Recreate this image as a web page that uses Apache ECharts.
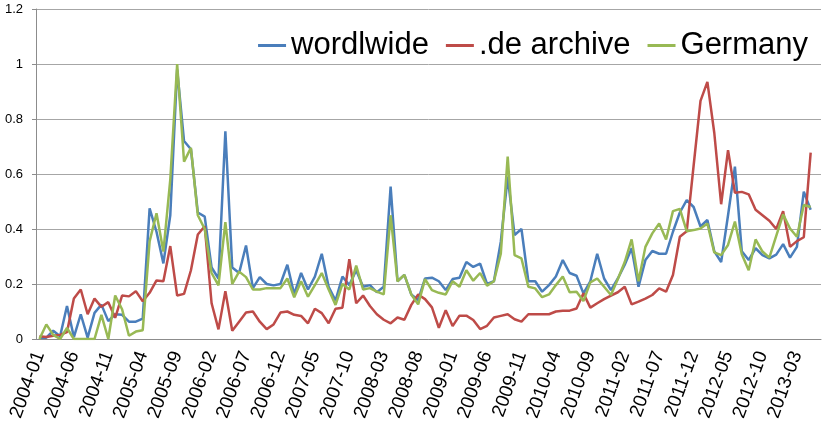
<!DOCTYPE html>
<html>
<head>
<meta charset="utf-8">
<script src="https://cdn.jsdelivr.net/npm/echarts@6/dist/echarts.min.js"></script>
<style>
  html, body { margin: 0; padding: 0; background: #fff; }
  #main { width: 830px; height: 434px; }
</style>
</head>
<body>
<div id="main"></div>
<script>
// months 2004-01 .. 2013-06 (last one has no data)
var months = [];
for (var y = 2004; y <= 2013; y++) {
  for (var m = 1; m <= 12; m++) {
    if (y === 2013 && m > 6) break;
    months.push(y + '-' + (m < 10 ? '0' + m : m));
  }
}

var worldwide = [
  0.005, 0.005, 0.03, 0.01, 0.12, 0.007, 0.09, 0.005, 0.095, 0.125,
  0.065, 0.09, 0.088, 0.063, 0.063, 0.074, 0.475, 0.39, 0.275, 0.45,
  0.98, 0.72, 0.69, 0.46, 0.445, 0.26, 0.22, 0.755, 0.26, 0.24,
  0.34, 0.185, 0.225, 0.2, 0.195, 0.2, 0.27, 0.163, 0.24, 0.18,
  0.227, 0.31, 0.19, 0.14, 0.227, 0.196, 0.25, 0.19, 0.196, 0.17,
  0.19, 0.554, 0.21, 0.233, 0.162, 0.142, 0.22, 0.223, 0.21, 0.178,
  0.218, 0.223, 0.28, 0.262, 0.274, 0.2, 0.21, 0.354, 0.59, 0.378,
  0.4, 0.21, 0.21, 0.172, 0.196, 0.227, 0.287, 0.24, 0.23, 0.166,
  0.21, 0.31, 0.22, 0.178, 0.22, 0.27, 0.33, 0.19, 0.287, 0.32,
  0.31, 0.31, 0.39, 0.46, 0.505, 0.48, 0.409, 0.433, 0.319, 0.28,
  0.45, 0.627, 0.319, 0.287, 0.33, 0.305, 0.293, 0.307, 0.345, 0.296,
  0.335, 0.536, 0.47
];

var deArchive = [
  0.01, 0.007, 0.012, 0.015, 0.025, 0.147, 0.18, 0.09, 0.147, 0.117,
  0.134, 0.077, 0.158, 0.155, 0.174, 0.137, 0.168, 0.213, 0.21, 0.338,
  0.158, 0.164, 0.25, 0.38, 0.41, 0.13, 0.035, 0.174, 0.03, 0.063,
  0.096, 0.1, 0.063, 0.036, 0.053, 0.096, 0.1, 0.088, 0.084, 0.057,
  0.11, 0.094, 0.057, 0.11, 0.114, 0.29, 0.13, 0.158, 0.12, 0.09,
  0.07, 0.057, 0.078, 0.07, 0.124, 0.162, 0.145, 0.115, 0.041, 0.105,
  0.047, 0.085, 0.085, 0.069, 0.036, 0.048, 0.078, 0.084, 0.09, 0.072,
  0.063, 0.09, 0.09, 0.09, 0.09, 0.1, 0.103, 0.103, 0.111, 0.166,
  0.114, 0.13, 0.145, 0.158, 0.17, 0.19, 0.126, 0.136, 0.147, 0.16,
  0.184, 0.172, 0.233, 0.372, 0.392, 0.63, 0.866, 0.935, 0.75, 0.49,
  0.687, 0.532, 0.535, 0.526, 0.47, 0.45, 0.43, 0.4, 0.465, 0.335,
  0.356, 0.37, 0.678
];

var germany = [
  0, 0.053, 0.015, 0, 0.04, 0, 0, 0, 0, 0.088,
  0, 0.158, 0.108, 0.012, 0.027, 0.032, 0.355, 0.457, 0.318, 0.58,
  1.0, 0.645, 0.695, 0.45, 0.4, 0.24, 0.195, 0.425, 0.2, 0.245,
  0.225, 0.18, 0.18, 0.185, 0.185, 0.185, 0.22, 0.152, 0.21, 0.154,
  0.196, 0.24, 0.18, 0.124, 0.2, 0.18, 0.267, 0.18, 0.185, 0.172,
  0.162, 0.45, 0.21, 0.233, 0.162, 0.126, 0.218, 0.178, 0.168, 0.162,
  0.21, 0.19, 0.25, 0.212, 0.24, 0.194, 0.21, 0.31, 0.663, 0.305,
  0.293, 0.19, 0.184, 0.152, 0.162, 0.196, 0.227, 0.17, 0.172, 0.138,
  0.206, 0.22, 0.19, 0.16, 0.218, 0.28, 0.362, 0.21, 0.335, 0.384,
  0.42, 0.362, 0.465, 0.473, 0.392, 0.396, 0.402, 0.42, 0.315, 0.305,
  0.342, 0.427, 0.308, 0.25, 0.362, 0.318, 0.296, 0.375, 0.453, 0.402,
  0.372, 0.487, 0.48
];

var yTicks = { min: 0, max: 1.2, interval: 0.2 };

var chart = echarts.init(document.getElementById('main'));

function line(name, data, color) {
  return {
    name: name,
    type: 'line',
    data: data,
    symbol: 'none',
    lineStyle: { width: 2.5, color: color },
    itemStyle: { color: color }
  };
}

chart.setOption({
  animation: false,
  textStyle: { fontFamily: 'Liberation Sans, Arial, sans-serif' },
  legend: {
    right: 22,
    top: 30,
    padding: 0,
    icon: 'rect',
    itemWidth: 28,
    itemHeight: 3,
    itemGap: 17,
    textStyle: { fontSize: 31, color: '#000' }
  },
  grid: { left: 36, right: 9, top: 9, bottom: 95 },
  xAxis: {
    type: 'category',
    data: months,
    boundaryGap: true,
    axisLine: { lineStyle: { color: '#8c8c8c', width: 1 } },
    axisTick: { interval: 0, length: 5, lineStyle: { color: '#8c8c8c' } },
    axisLabel: {
      interval: 4,
      rotate: 70,
      fontSize: 19,
      color: '#000',
      margin: 13
    },
    splitLine: { show: false }
  },
  yAxis: {
    type: 'value',
    min: yTicks.min,
    max: yTicks.max,
    interval: yTicks.interval,
    axisLine: { show: true, lineStyle: { color: '#8c8c8c', width: 1 } },
    axisTick: { show: true, length: 4, lineStyle: { color: '#8c8c8c' } },
    axisLabel: { fontSize: 13, color: '#000', margin: 13 },
    splitLine: { lineStyle: { color: '#a6a6a6', width: 1 } }
  },
  series: [
    line('wordlwide', worldwide, '#4a7ebb'),
    line('.de archive', deArchive, '#be4b48'),
    line('Germany', germany, '#98b954')
  ]
});
</script>
</body>
</html>
